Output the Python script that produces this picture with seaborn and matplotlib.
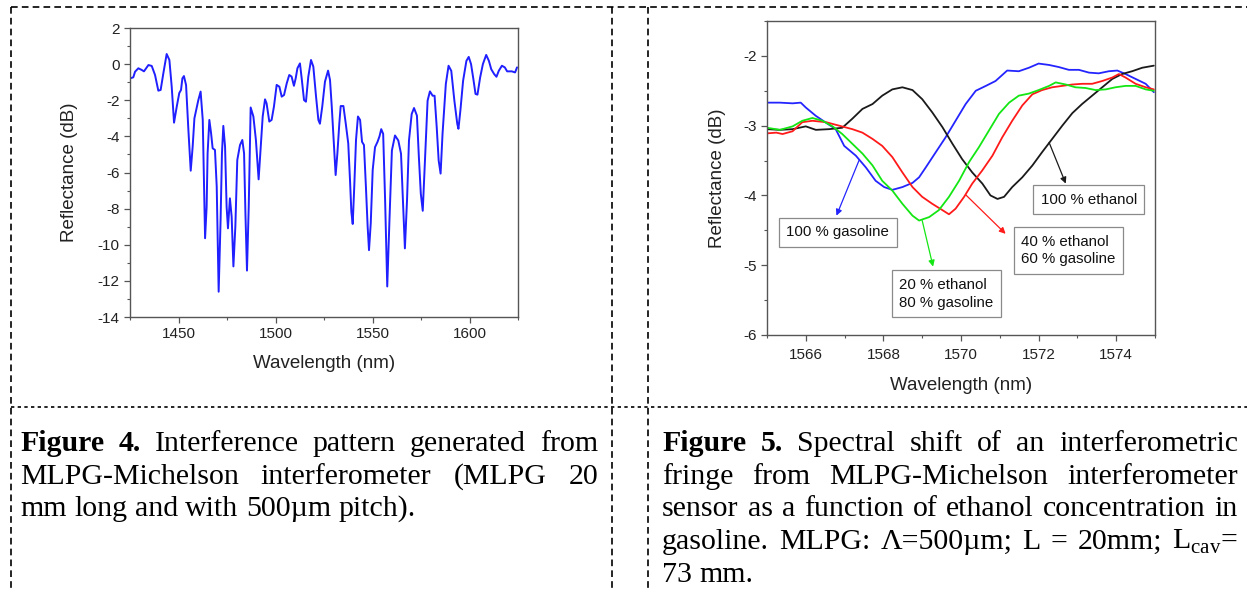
import numpy as np
import pandas as pd
import matplotlib
matplotlib.use("Agg")
import matplotlib.pyplot as plt
import seaborn as sns
from matplotlib.lines import Line2D
from matplotlib.ticker import MultipleLocator, FormatStrFormatter

# -------------------------------
# DATA - Figure 4 (interference pattern)
# -------------------------------
wl_fig4 = [1425.0, 1426.7, 1427.6, 1429.3, 1431.0, 1432.2, 1434.5, 1436.2, 1437.9, 1439.6,
           1440.8, 1442.2, 1443.9, 1445.3, 1446.5, 1447.7, 1449.1, 1450.4, 1451.3, 1452.0,
           1452.8, 1453.9, 1455.1, 1456.3, 1457.3, 1458.2, 1459.4, 1460.2, 1461.4, 1462.5,
           1463.7, 1464.5, 1465.0, 1465.9, 1466.8, 1467.6, 1468.8, 1469.7, 1470.7, 1471.7,
           1472.4, 1473.1, 1474.0, 1474.8, 1475.5, 1476.5, 1477.4, 1478.3, 1479.3, 1480.3,
           1481.7, 1482.9, 1483.8, 1484.5, 1485.3, 1486.2, 1487.2, 1488.6, 1489.9, 1491.3,
           1492.4, 1493.4, 1494.6, 1495.4, 1496.8, 1498.0, 1499.2, 1500.6, 1502.0, 1503.2,
           1504.4, 1505.8, 1507.1, 1508.3, 1509.5, 1510.4, 1511.3, 1512.6, 1513.5, 1514.7,
           1515.7, 1516.9, 1518.3, 1519.5, 1520.9, 1522.1, 1522.9, 1524.1, 1525.5, 1527.1,
           1528.1, 1529.0, 1530.2, 1531.0, 1531.9, 1532.9, 1533.6, 1535.0, 1536.2, 1537.5,
           1538.4, 1539.1, 1539.8, 1540.6, 1541.5, 1542.5, 1543.6, 1544.6, 1545.6, 1546.6,
           1547.5, 1548.2, 1549.1, 1550.1, 1551.3, 1552.6, 1553.6, 1554.5, 1555.5, 1556.5,
           1557.6, 1558.8, 1560.0, 1561.6, 1563.3, 1564.7, 1565.7, 1566.7, 1567.8, 1568.8,
           1570.2, 1571.4, 1572.9, 1573.9, 1574.9, 1575.9, 1576.9, 1578.4, 1579.6, 1581.0,
           1582.0, 1583.1, 1584.1, 1585.1, 1586.1, 1587.8, 1589.2, 1590.6, 1592.2, 1593.7,
           1594.3, 1595.3, 1596.7, 1598.4, 1599.6, 1600.8, 1602.0, 1603.1, 1604.1, 1605.5,
           1606.9, 1608.6, 1610.0, 1611.2, 1612.7, 1613.9, 1615.1, 1616.7, 1618.2, 1619.4,
           1621.8, 1623.5, 1624.5]
refl_fig4 = [-0.79, -0.73, -0.42, -0.23, -0.32, -0.40, -0.05, -0.10, -0.60, -1.47,
             -1.43, -0.50, 0.56, 0.23, -1.25, -3.24, -2.35, -1.60, -1.43, -0.79,
             -0.66, -1.16, -3.65, -5.90, -4.57, -3.00, -2.40, -2.00, -1.52, -3.09,
             -9.64, -7.90, -4.94, -3.09, -3.83, -4.66, -4.75, -6.78, -12.60, -8.60,
             -4.94, -3.42, -4.57, -7.90, -9.09, -7.43, -8.45, -11.20, -9.00, -5.31,
             -4.48, -4.20, -4.94, -8.27, -11.43, -7.90, -2.40, -2.90, -4.20, -6.38,
             -4.57, -2.90, -1.95, -2.17, -3.18, -3.09, -2.35, -1.15, -1.25, -1.80,
             -1.71, -1.06, -0.60, -0.69, -1.20, -0.79, -0.23, 0.04, -0.79, -1.99,
             -2.08, -0.70, 0.23, -0.14, -1.80, -3.09, -3.30, -2.35, -0.97, -0.36,
             -0.88, -2.35, -4.57, -6.14, -4.94, -3.28, -2.32, -2.32, -3.28, -4.39,
             -6.41, -8.17, -8.85, -6.78, -4.20, -2.90, -3.09, -4.30, -4.48, -6.78,
             -9.00, -10.30, -8.80, -5.86, -4.60, -4.30, -4.00, -3.60, -3.86, -7.53,
             -12.31, -8.45, -4.78, -3.95, -4.23, -4.96, -7.53, -10.20, -7.53, -4.23,
             -2.76, -2.43, -2.85, -5.14, -7.17, -8.12, -5.70, -2.02, -1.51, -1.75,
             -1.75, -3.49, -5.33, -6.06, -3.86, -1.10, -0.09, -0.37, -2.02, -3.31,
             -3.58, -2.57, -0.92, 0.18, 0.40, 0.00, -0.83, -1.65, -1.69, -0.73,
             0.00, 0.51, 0.18, -0.28, -0.55, -0.70, -0.37, -0.09, -0.18, -0.40,
             -0.40, -0.46, -0.18]

# -------------------------------
# DATA - Figure 5 (spectral shift)
# -------------------------------
wl_gasoline = [1565.0, 1565.33, 1565.66, 1565.87, 1566.0, 1566.26, 1566.5, 1566.77, 1566.99, 1567.29,
               1567.55, 1567.8, 1568.02, 1568.23, 1568.49, 1568.75, 1568.92, 1569.09, 1569.35, 1569.6,
               1569.86, 1570.12, 1570.38, 1570.64, 1570.89, 1571.19, 1571.49, 1571.75, 1572.0, 1572.27,
               1572.52, 1572.78, 1573.04, 1573.3, 1573.55, 1573.81, 1574.03, 1574.24, 1574.5, 1574.76,
               1574.97]
refl_gasoline = [-2.67, -2.67, -2.68, -2.67, -2.74, -2.86, -2.95, -3.05, -3.29, -3.43,
                 -3.60, -3.79, -3.88, -3.92, -3.88, -3.82, -3.74, -3.60, -3.38, -3.17,
                 -2.93, -2.69, -2.50, -2.43, -2.36, -2.21, -2.22, -2.17, -2.11, -2.13,
                 -2.16, -2.20, -2.20, -2.24, -2.25, -2.22, -2.21, -2.26, -2.33, -2.40,
                 -2.52]

wl_ethanol = [1565.0, 1565.33, 1565.66, 1566.0, 1566.26, 1566.6, 1566.94, 1567.2, 1567.46, 1567.72,
              1567.97, 1568.23, 1568.49, 1568.75, 1569.0, 1569.26, 1569.52, 1569.78, 1570.03, 1570.29,
              1570.55, 1570.76, 1570.94, 1571.11, 1571.32, 1571.58, 1571.84, 1572.09, 1572.35, 1572.61,
              1572.87, 1573.12, 1573.38, 1573.64, 1573.9, 1574.15, 1574.41, 1574.67, 1574.97]
refl_ethanol = [-3.05, -3.06, -3.05, -3.01, -3.06, -3.05, -3.03, -2.90, -2.76, -2.69,
                -2.57, -2.48, -2.45, -2.49, -2.62, -2.81, -3.02, -3.26, -3.48, -3.67,
                -3.83, -4.00, -4.05, -4.02, -3.88, -3.74, -3.57, -3.38, -3.19, -3.00,
                -2.82, -2.69, -2.57, -2.45, -2.33, -2.26, -2.22, -2.17, -2.14]

wl_e40 = [1565.0, 1565.24, 1565.4, 1565.66, 1565.91, 1566.17, 1566.52, 1566.86, 1567.2, 1567.46,
          1567.72, 1567.97, 1568.23, 1568.49, 1568.75, 1569.0, 1569.26, 1569.52, 1569.69, 1569.86,
          1570.08, 1570.29, 1570.55, 1570.81, 1571.06, 1571.32, 1571.58, 1571.84, 1572.09, 1572.35,
          1572.61, 1572.87, 1573.12, 1573.38, 1573.64, 1573.9, 1574.07, 1574.24, 1574.5, 1574.76,
          1574.97]
refl_e40 = [-3.11, -3.10, -3.12, -3.08, -2.95, -2.93, -2.95, -3.00, -3.05, -3.10,
            -3.19, -3.29, -3.45, -3.67, -3.88, -4.02, -4.12, -4.21, -4.27, -4.19,
            -4.02, -3.83, -3.64, -3.43, -3.17, -2.93, -2.71, -2.55, -2.49, -2.45,
            -2.43, -2.41, -2.40, -2.40, -2.36, -2.31, -2.26, -2.31, -2.40, -2.45,
            -2.48]

wl_e20 = [1565.0, 1565.33, 1565.66, 1565.91, 1566.17, 1566.43, 1566.69, 1566.94, 1567.2, 1567.46,
          1567.72, 1567.97, 1568.23, 1568.49, 1568.75, 1568.92, 1569.18, 1569.43, 1569.69, 1569.95,
          1570.21, 1570.46, 1570.72, 1570.98, 1571.24, 1571.49, 1571.75, 1572.0, 1572.27, 1572.44,
          1572.7, 1572.95, 1573.21, 1573.47, 1573.73, 1573.98, 1574.24, 1574.5, 1574.76, 1574.97]
refl_e20 = [-3.03, -3.06, -3.01, -2.93, -2.89, -2.93, -3.01, -3.12, -3.26, -3.40,
            -3.57, -3.79, -3.93, -4.12, -4.29, -4.36, -4.31, -4.21, -4.02, -3.79,
            -3.52, -3.31, -3.07, -2.83, -2.67, -2.57, -2.54, -2.49, -2.43, -2.38,
            -2.41, -2.45, -2.46, -2.49, -2.48, -2.45, -2.43, -2.43, -2.48, -2.50]

labels_fig5 = ["100 % gasoline", "100 % ethanol", "40 % ethanol\n60 % gasoline",
               "20 % ethanol\n80 % gasoline"]
colors_fig5 = ["#2424ff", "#1a1a1a", "#ff1a1a", "#14e614"]

# -------------------------------
# STYLE
# -------------------------------
sns.set_theme(style="white")
plt.rcParams["font.family"] = ["Liberation Sans", "DejaVu Sans"]
plt.rcParams["axes.unicode_minus"] = False
plt.rcParams["mathtext.fontset"] = "custom"
plt.rcParams["mathtext.rm"] = "Liberation Serif"

W, H = 1247, 592
fig = plt.figure(figsize=(W / 100, H / 100), dpi=100)


def axes_box(left, top, right, bottom):
    return [left / W, 1 - bottom / H, (right - left) / W, (bottom - top) / H]


def style_axes(ax):
    for s in ax.spines.values():
        s.set_color("#555555")
        s.set_linewidth(1.0)
    ax.tick_params(which="both", direction="out", color="#555555", labelcolor="#222222",
                   labelsize=11, left=True, bottom=True, top=False, right=False)
    ax.tick_params(which="major", length=4.5, width=0.9, pad=3)
    ax.tick_params(which="minor", length=2.5, width=0.8)
    ax.grid(False)


# -------------------------------
# FIGURE 4
# -------------------------------
ax1 = fig.add_axes(axes_box(130, 28, 518, 317))
sns.lineplot(x=wl_fig4, y=refl_fig4, ax=ax1, color="#1f1fff", lw=1.4, sort=False)
ax1.set_xlim(1425, 1625)
ax1.set_ylim(-14, 2)
ax1.xaxis.set_major_locator(MultipleLocator(50))
ax1.xaxis.set_minor_locator(MultipleLocator(25))
ax1.yaxis.set_major_locator(MultipleLocator(2))
ax1.yaxis.set_minor_locator(MultipleLocator(1))
ax1.yaxis.set_major_formatter(FormatStrFormatter("%d"))
ax1.set_xlabel("Wavelength (nm)", fontsize=13.5, color="#222222", labelpad=10)
ax1.set_ylabel("Reflectance (dB)", fontsize=13.5, color="#222222", labelpad=14)
style_axes(ax1)

# -------------------------------
# FIGURE 5
# -------------------------------
ax2 = fig.add_axes(axes_box(767, 21, 1155, 335))
series = [(wl_gasoline, refl_gasoline), (wl_ethanol, refl_ethanol),
          (wl_e40, refl_e40), (wl_e20, refl_e20)]
frames = []
for lab, (xs, ys) in zip(labels_fig5, series):
    frames.append(pd.DataFrame({"wl": xs, "refl": ys, "sample": lab}))
df5 = pd.concat(frames, ignore_index=True)
sns.lineplot(data=df5, x="wl", y="refl", hue="sample", hue_order=labels_fig5,
             palette=dict(zip(labels_fig5, colors_fig5)), ax=ax2, lw=1.3, legend=False)
ax2.set_xlim(1565, 1575)
ax2.set_ylim(-6, -1.5)
ax2.xaxis.set_major_locator(MultipleLocator(2))
ax2.xaxis.set_minor_locator(MultipleLocator(1))
ax2.yaxis.set_major_locator(MultipleLocator(1))
ax2.yaxis.set_minor_locator(MultipleLocator(0.5))
ax2.yaxis.set_major_formatter(FormatStrFormatter("%d"))
ax2.tick_params(axis="x", which="major", pad=5)
ax2.set_xlabel("Wavelength (nm)", fontsize=13.5, color="#222222", labelpad=11)
ax2.set_ylabel("Reflectance (dB)", fontsize=13.5, color="#222222", labelpad=12)
style_axes(ax2)
ax2.tick_params(axis="x", which="major", pad=5)

# annotation boxes with arrows (text pos, arrow tail, arrow head)
notes = [
    (labels_fig5[0], (1566.82, -4.53), (1567.37, -3.50), (1566.79, -4.29)),
    (labels_fig5[1], (1573.29, -4.06), (1572.27, -3.24), (1572.70, -3.83)),
    (labels_fig5[2], (1572.77, -4.79), (1570.12, -3.99), (1571.15, -4.55)),
    (labels_fig5[3], (1569.62, -5.41), (1569.00, -4.36), (1569.28, -5.02)),
]
for (txt, pos, tail, head), col in zip(notes, colors_fig5):
    ax2.annotate("", xy=head, xytext=tail,
                 arrowprops=dict(arrowstyle="-|>", color=col, lw=0.9, mutation_scale=9,
                                 shrinkA=0, shrinkB=0))
    ax2.text(pos[0], pos[1], txt, ha="center", va="center", fontsize=10.8, color="#111111",
             linespacing=1.35, multialignment="left",
             bbox=dict(boxstyle="square,pad=0.5", fc="white", ec="#8a8a8a", lw=0.9))

# -------------------------------
# TABLE BORDERS
# -------------------------------
def border(x0, y0, x1, y1, dashes):
    fig.add_artist(Line2D([x0 / W, x1 / W], [1 - y0 / H, 1 - y1 / H], transform=fig.transFigure,
                          color="black", lw=1.2, linestyle=(0, dashes)))


border(11, 7, 1247, 7, (4, 2.5))
border(11, 7, 11, 592, (4, 2.5))
border(612, 7, 612, 592, (4, 2.5))
border(648, 7, 648, 592, (4, 2.5))
border(11, 407, 1247, 407, (2, 2))

# -------------------------------
# CAPTIONS (justified lines)
# -------------------------------
renderer = fig.canvas.get_renderer()
CAP_SIZE = 21.5


def caption_line(words, x0, x1, baseline, justify=True):
    texts = []
    for w in words:
        bold = w.startswith("*")
        t = fig.text(0, 1 - baseline / H, w.lstrip("*"), fontsize=CAP_SIZE,
                     family=["Liberation Serif", "DejaVu Serif"],
                     weight="bold" if bold else "normal", va="baseline", ha="left", color="black")
        texts.append(t)
    widths = [t.get_window_extent(renderer).width for t in texts]
    if justify and len(texts) > 1:
        gap = (x1 - x0 - sum(widths)) / (len(texts) - 1)
    else:
        gap = CAP_SIZE * 0.25 * 100 / 72
    x = x0
    for t, w in zip(texts, widths):
        t.set_x(x / W)
        x += w + gap


left_lines = [
    ["*Figure", "*4.", "Interference", "pattern", "generated", "from"],
    ["MLPG-Michelson", "interferometer", "(MLPG", "20"],
    ["mm", "long", "and", "with", "500µm", "pitch)."],
]
right_lines = [
    ["*Figure", "*5.", "Spectral", "shift", "of", "an", "interferometric"],
    ["fringe", "from", "MLPG-Michelson", "interferometer"],
    ["sensor", "as", "a", "function", "of", "ethanol", "concentration", "in"],
    ["gasoline.", "MLPG:", "Λ=500µm;", "L", "=", "20mm;", r"L$_{\mathrm{cav}}$="],
    ["73", "mm."],
]
baselines = [451, 484, 516, 549, 582]
for i, words in enumerate(left_lines):
    caption_line(words, 20, 598, baselines[i], justify=i < len(left_lines) - 1)
for i, words in enumerate(right_lines):
    caption_line(words, 662, 1238, baselines[i], justify=i < len(right_lines) - 1)

fig.savefig("out.png", dpi=100, facecolor="white")
